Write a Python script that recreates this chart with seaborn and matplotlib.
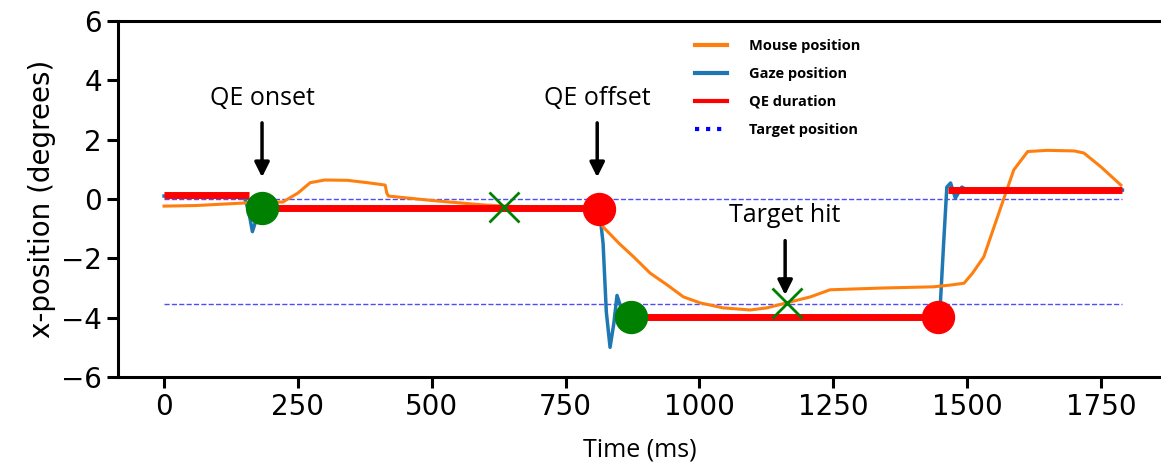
import matplotlib
matplotlib.use("Agg")
import matplotlib.pyplot as plt
from matplotlib.lines import Line2D
import seaborn as sns

# mouse (orange) trace
mouse_t = [0, 60, 155, 222, 250, 273, 300, 342, 380, 413, 416, 419, 500, 597, 700, 780, 810,
           820, 850, 877, 908, 940, 970, 1001, 1044, 1095, 1126, 1163, 1207, 1244, 1343,
           1437, 1469, 1494, 1510, 1531, 1563, 1587, 1613, 1650, 1700, 1718, 1750, 1787]
mouse_x = [-0.24, -0.22, -0.13, -0.1, 0.2, 0.55, 0.64, 0.63, 0.55, 0.47, 0.2, 0.1, -0.05, -0.2,
           -0.3, -0.35, -0.45, -0.94, -1.5, -1.95, -2.5, -2.9, -3.3, -3.5, -3.67, -3.74, -3.67,
           -3.5, -3.3, -3.06, -3.0, -2.96, -2.9, -2.84, -2.5, -1.95, -0.27, 0.98, 1.6, 1.64, 1.62,
           1.55, 1.08, 0.47]

# gaze (blue) trace
gaze_t = [0, 150, 158, 165, 172, 183, 400, 600, 813, 820, 826, 833, 840, 846, 856, 872,
          1100, 1446, 1450, 1456, 1462, 1469, 1478, 1490, 1500, 1790]
gaze_x = [0.1, 0.05, -0.4, -1.1, -0.7, -0.3, -0.33, -0.32, -0.34, -1.5, -3.8, -5.0, -4.2, -3.25,
          -3.8, -3.97, -3.95, -3.97, -3.5, -1.5, 0.4, 0.54, 0.03, 0.4, 0.3, 0.3]

# QE duration segments (start, end, level)
qe_start = [0, 183, 872, 1465]
qe_end = [159, 813, 1446, 1790]
qe_level = [0.13, -0.3, -3.97, 0.3]

# target positions
target_levels = [0.0, -3.54]
target_span = [0, 1790]

# events
onset_t = [183, 872]
onset_x = [-0.3, -3.97]
offset_t = [813, 1446]
offset_x = [-0.34, -3.97]
hit_t = [635, 1164]
hit_x = [-0.27, -3.5]

fig = plt.figure(figsize=(11.61, 4.71), dpi=100)
ax = fig.add_axes([118 / 1161, 94 / 471, 1 - 118 / 1161, 356 / 471])

for lvl in target_levels:
    ax.plot(target_span, [lvl, lvl], ls="--", color="blue", lw=1, alpha=0.7, zorder=1)

sns.lineplot(x=gaze_t, y=gaze_x, ax=ax, color="#1f77b4", lw=2.5, sort=False,
             estimator=None, zorder=2)
sns.lineplot(x=mouse_t, y=mouse_x, ax=ax, color="#ff7f0e", lw=2.2, sort=False,
             estimator=None, zorder=3)
for s, e, lvl in zip(qe_start, qe_end, qe_level):
    ax.plot([s, e], [lvl, lvl], color="red", lw=5, solid_capstyle="butt", zorder=4)

ax.plot(onset_t, onset_x, "o", color="green", ms=23, ls="none", zorder=5)
ax.plot(offset_t, offset_x, "o", color="red", ms=23, ls="none", zorder=5)
ax.plot(hit_t, hit_x, "x", color="green", ms=22, mew=2, ls="none", zorder=6)

txt_font = dict(family="Open Sans", fontsize=18)
arrow = dict(arrowstyle="-|>", lw=2.5, color="black", mutation_scale=22)
ax.annotate("", xy=(183, 0.64), xytext=(183, 2.66), arrowprops=arrow)
ax.text(183, 3.4, "QE onset", ha="center", va="center", **txt_font)
ax.annotate("", xy=(809, 0.64), xytext=(809, 2.66), arrowprops=arrow)
ax.text(809, 3.4, "QE offset", ha="center", va="center", **txt_font)
ax.annotate("", xy=(1160, -3.33), xytext=(1160, -1.31), arrowprops=arrow)
ax.text(1160, -0.54, "Target hit", ha="center", va="center", **txt_font)

ax.set_xlim(-86, 1862)
ax.set_ylim(-6, 6)
ax.set_xticks([0, 250, 500, 750, 1000, 1250, 1500, 1750])
ax.set_yticks([-6, -4, -2, 0, 2, 4, 6])
ax.tick_params(labelsize=20, length=8, width=2.2)
for sp in ["left", "top", "bottom"]:
    ax.spines[sp].set_linewidth(2.2)
ax.spines["right"].set_visible(False)
ax.set_ylabel("x-position (degrees)", fontsize=20)
ax.set_xlabel("Time (ms)", family="Open Sans", fontsize=18, labelpad=12)

handles = [Line2D([], [], color="#ff7f0e", lw=3),
           Line2D([], [], color="#1f77b4", lw=3),
           Line2D([], [], color="red", lw=3),
           Line2D([], [], color="blue", lw=3, ls=":")]
labels = ["Mouse position", "Gaze position", "QE duration", "Target position"]
ax.legend(handles, labels, loc="upper left", bbox_to_anchor=(682 / 1161, 1 - 26 / 471),
          bbox_transform=fig.transFigure, frameon=False, handlelength=2.2,
          handletextpad=1.5, labelspacing=0.95,
          prop=dict(family="Open Sans", weight="bold", size=10.5))

fig.savefig("out.png", dpi=100)
